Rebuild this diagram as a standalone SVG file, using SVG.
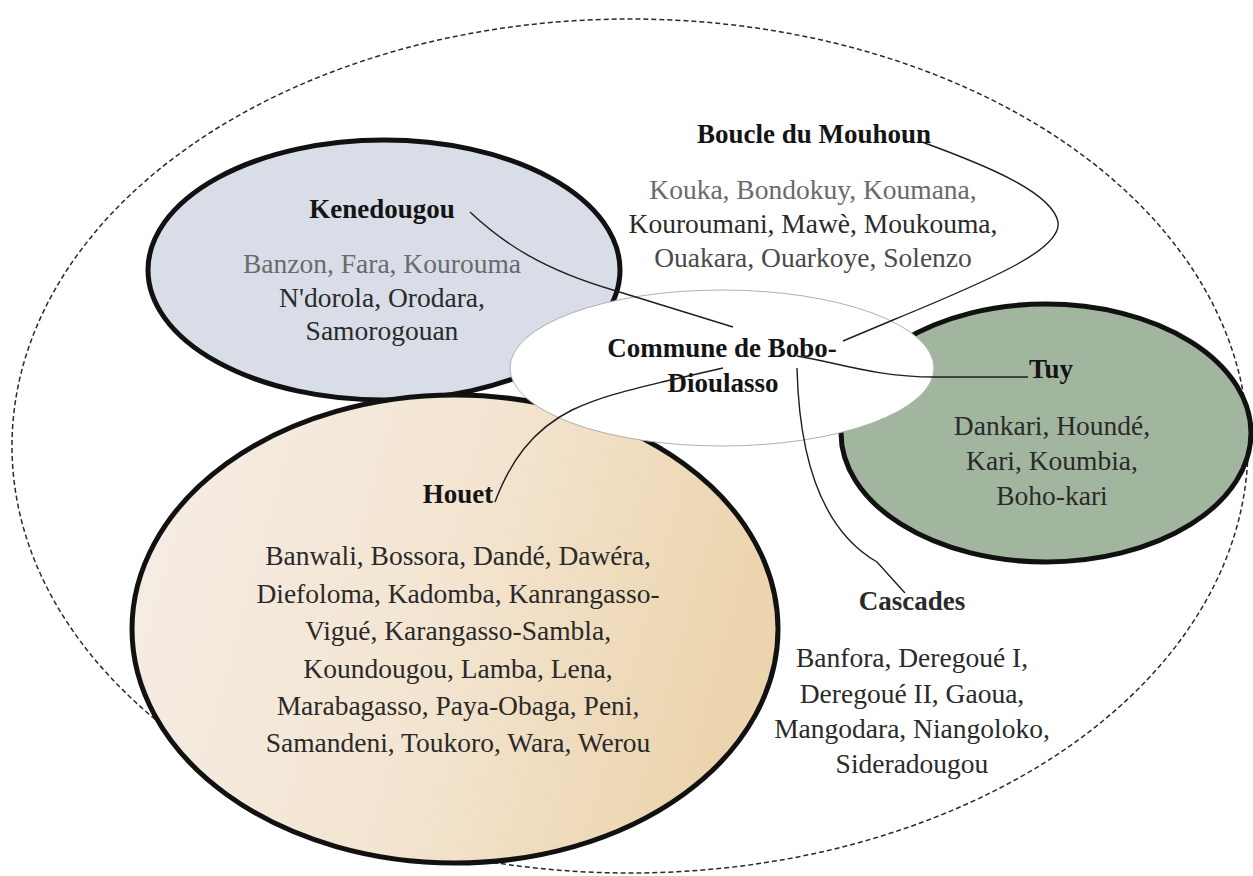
<svg xmlns="http://www.w3.org/2000/svg" width="1253" height="876" viewBox="0 0 1253 876">
<style>
  .region { stroke: #111; stroke-width: 5; }
  .title { font-family: "Liberation Serif", "Times New Roman", serif; font-weight: bold; font-size: 27px; fill: #141414; text-anchor: middle; }
  .body { font-family: "Liberation Serif", "Times New Roman", serif; font-size: 27.5px; fill: #2a2a2a; text-anchor: middle; }
  .light { fill: #6a6a6a; }
  .conn { fill: none; stroke: #1e1e1e; stroke-width: 1.4; }
</style>
<defs>
  <linearGradient id="houetFill" x1="0" y1="0" x2="1" y2="0.2">
    <stop offset="0" stop-color="#f5ede6"/>
    <stop offset="0.55" stop-color="#f3e5d1"/>
    <stop offset="1" stop-color="#ecd5ae"/>
  </linearGradient>
</defs>
<rect width="1253" height="876" fill="#ffffff"/>
<g id="outer">
  <ellipse cx="630" cy="446" rx="618" ry="427" fill="none" stroke="#2a2a2a" stroke-width="1.5" stroke-dasharray="5 3"/>
</g>
<g id="kenedougou">
  <ellipse class="region" cx="384" cy="270" rx="236" ry="130" fill="#d8dde7"/>
  <text class="title" x="382" y="218">Kenedougou</text>
  <text class="body" x="382" y="273"><tspan class="light">Banzon, Fara, Kourouma</tspan></text>
  <text class="body" x="382" y="307">N'dorola, Orodara,</text>
  <text class="body" x="382" y="340">Samorogouan</text>
</g>
<g id="houet">
  <ellipse class="region" cx="455" cy="629" rx="323" ry="234" fill="url(#houetFill)"/>
  <text class="title" x="458" y="503">Houet</text>
  <text class="body" x="458" y="565">Banwali, Bossora, Dandé, Dawéra,</text>
  <text class="body" x="458" y="603">Diefoloma, Kadomba, Kanrangasso-</text>
  <text class="body" x="458" y="640">Vigué, Karangasso-Sambla,</text>
  <text class="body" x="458" y="678">Koundougou, Lamba, Lena,</text>
  <text class="body" x="458" y="715">Marabagasso, Paya-Obaga, Peni,</text>
  <text class="body" x="458" y="752">Samandeni, Toukoro, Wara, Werou</text>
</g>
<g id="tuy">
  <ellipse class="region" cx="1046" cy="433" rx="205" ry="129" fill="#a2b59f"/>
  <text class="title" x="1051" y="378">Tuy</text>
  <text class="body" x="1052" y="435">Dankari, Houndé,</text>
  <text class="body" x="1052" y="470">Kari, Koumbia,</text>
  <text class="body" x="1052" y="505">Boho-kari</text>
</g>
<g id="boucle-du-mouhoun">
  <text class="title" x="814" y="143">Boucle du Mouhoun</text>
  <text class="body light" x="813" y="199">Kouka, Bondokuy, Koumana,</text>
  <text class="body" x="813" y="233">Kouroumani, Mawè, Moukouma,</text>
  <text class="body" x="813" y="267" style="fill:#4a4a4a">Ouakara, Ouarkoye, Solenzo</text>
</g>
<g id="cascades">
  <text class="title" x="912" y="610" style="fill:#2a2a2a">Cascades</text>
  <text class="body" x="912" y="667">Banfora, Deregoué I,</text>
  <text class="body" x="912" y="703">Deregoué II, Gaoua,</text>
  <text class="body" x="912" y="738">Mangodara, Niangoloko,</text>
  <text class="body" x="912" y="773">Sideradougou</text>
</g>
<g id="commune">
  <ellipse cx="722" cy="368" rx="212" ry="78" fill="#ffffff" stroke="#b0b0b0" stroke-width="1"/>
  <text class="title" x="722" y="357">Commune de Bobo-</text>
  <text class="title" x="723" y="392">Dioulasso</text>
</g>
<g id="connectors">
  <path class="conn" d="M470,212 C505,245 545,270 613,290 L733,327"/>
  <path class="conn" d="M922,142 C985,165 1052,192 1058,222 C1062,248 1000,276 893,320 L843,341"/>
  <path class="conn" d="M797,356 C835,362 875,377 935,377 L1028,377"/>
  <path class="conn" d="M495,502 C510,462 532,430 572,410 C600,397 625,391 662,382 L723,368"/>
  <path class="conn" d="M797,368 C799,450 818,528 877,562 L905,593"/>
</g>
</svg>
